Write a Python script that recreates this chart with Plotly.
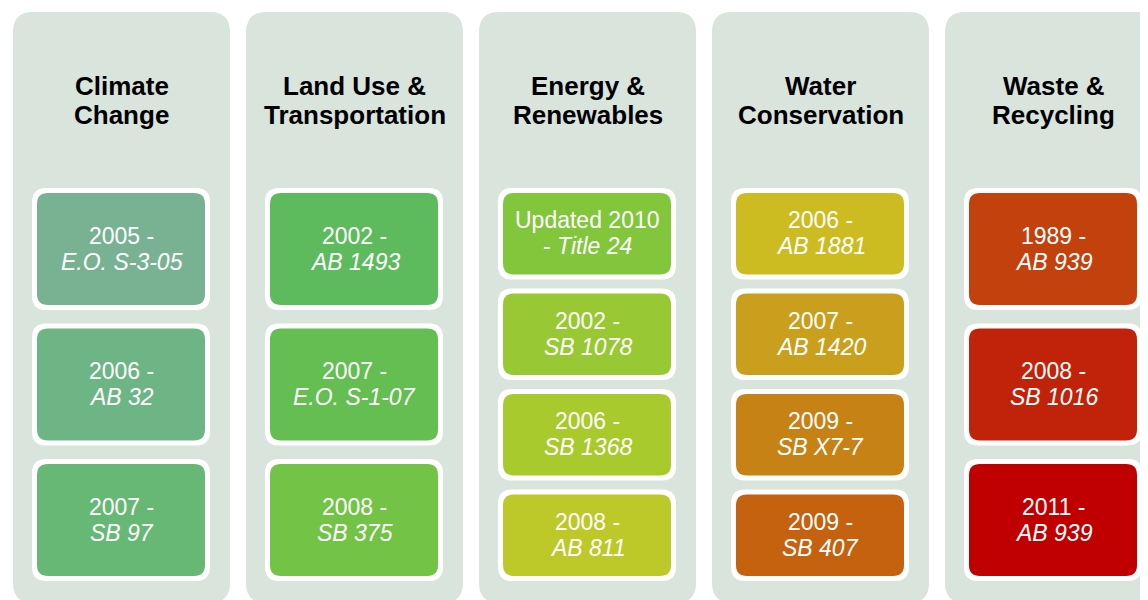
import plotly.graph_objects as go

# ---- data ----
categories = [
    ["Climate", "Change"],
    ["Land Use &", "Transportation"],
    ["Energy &", "Renewables"],
    ["Water", "Conservation"],
    ["Waste &", "Recycling"],
]
items_line1 = [
    ["2005 -", "2006 -", "2007 -"],
    ["2002 -", "2007 -", "2008 -"],
    ["Updated 2010", "2002 -", "2006 -", "2008 -"],
    ["2006 -", "2007 -", "2009 -", "2009 -"],
    ["1989 -", "2008 -", "2011 -"],
]
items_line2 = [
    ["<i>E.O. S-3-05</i>", "<i>AB 32</i>", "<i>SB 97</i>"],
    ["<i>AB 1493</i>", "<i>E.O. S-1-07</i>", "<i>SB 375</i>"],
    ["- <i>Title 24</i>", "<i>SB 1078</i>", "<i>SB 1368</i>", "<i>AB 811</i>"],
    ["<i>AB 1881</i>", "<i>AB 1420</i>", "<i>SB X7-7</i>", "<i>SB 407</i>"],
    ["<i>AB 939</i>", "<i>SB 1016</i>", "<i>AB 939</i>"],
]
item_colors = [
    ["#79B293", "#6EB585", "#66B874"],
    ["#5DBB5E", "#64BE52", "#73C347"],
    ["#82C63C", "#98C934", "#A9CA2D", "#BDC829"],
    ["#CCBC22", "#C99F1D", "#C78216", "#C46210"],
    ["#C3410C", "#C1230A", "#C00000"],
]

# ---- style ----
PANEL = "#D8E4DC"
FONT = "Liberation Sans, Arial, sans-serif"
W, H = 1148, 600
OFF = 8  # default page body margin
panel_x0, panel_pitch, panel_w = 13, 233, 217
panel_top, panel_bot, panel_r = 12, 603, 20
box_dx0, box_dx1 = 19, 197
box_top, box_bot = 188, 581
border = 5
box_r = 11
title_size, title_step = 26, 29.5
item_size, item_step = 23, 26


def rrect(x0, y0, x1, y1, r):
    return (f"M{x0+r},{y0} L{x1-r},{y0} Q{x1},{y0} {x1},{y0+r} "
            f"L{x1},{y1-r} Q{x1},{y1} {x1-r},{y1} L{x0+r},{y1} "
            f"Q{x0},{y1} {x0},{y1-r} L{x0},{y0+r} Q{x0},{y0} {x0+r},{y0} Z")


shapes = []
annotations = []
for i, title in enumerate(categories):
    px0 = panel_x0 + i * panel_pitch
    px1 = px0 + panel_w
    cx = (px0 + px1) / 2
    shapes.append(dict(type="path", path=rrect(px0, panel_top, px1, panel_bot, panel_r),
                       fillcolor=PANEL, line=dict(width=0), layer="below"))
    tmid = 100.5
    for j, t in enumerate(title):
        annotations.append(dict(x=cx, y=tmid + (j - 0.5) * title_step, text=f"<b>{t}</b>",
                                showarrow=False, xanchor="center", yanchor="middle", borderpad=0,
                                font=dict(family=FONT, size=title_size, color="black")))
    n = len(items_line1[i])
    gap = 13.5 if n == 3 else 9
    h = (box_bot - box_top - gap * (n - 1)) / n
    bx0, bx1 = px0 + box_dx0, px0 + box_dx1
    for k in range(n):
        y0 = box_top + k * (h + gap)
        y1 = y0 + h
        shapes.append(dict(type="path", path=rrect(bx0, y0, bx1, y1, box_r + 3),
                           fillcolor="white", line=dict(width=0), layer="below"))
        shapes.append(dict(type="path", path=rrect(bx0 + border, y0 + border, bx1 - border, y1 - border, box_r),
                           fillcolor=item_colors[i][k], line=dict(width=0), layer="below"))
        cy = (y0 + y1) / 2 - 0.5
        for m, txt in enumerate([items_line1[i][k], items_line2[i][k]]):
            annotations.append(dict(x=cx, y=cy + (m - 0.5) * item_step, text=txt, showarrow=False,
                                    xanchor="center", yanchor="middle", borderpad=0,
                                    font=dict(family=FONT, size=item_size, color="white")))

fig = go.Figure()
fig.update_layout(
    width=W - OFF, height=H - OFF,
    margin=dict(l=0, r=0, t=0, b=0),
    paper_bgcolor="white", plot_bgcolor="white",
    xaxis=dict(range=[OFF, W], visible=False, fixedrange=True),
    yaxis=dict(range=[H, OFF], visible=False, fixedrange=True),
    shapes=shapes, annotations=annotations, showlegend=False,
)
fig.write_html("out.html", config={"displayModeBar": False})
